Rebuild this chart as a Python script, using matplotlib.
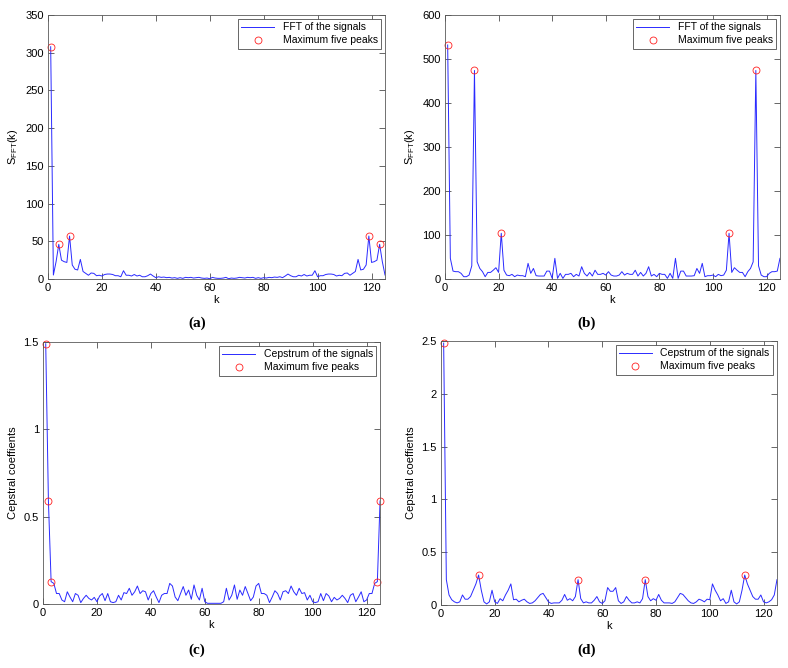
import numpy as np
import matplotlib
matplotlib.use('Agg')
import matplotlib.pyplot as plt
from matplotlib.ticker import FormatStrFormatter

plt.rcParams['font.family'] = ['Liberation Sans', 'DejaVu Sans']
plt.rcParams['font.size'] = 8

# spectra, k = 1..125
fft_a = [308, 5.3, 23, 46, 25, 23, 22, 57, 18.6, 13, 12, 26, 10, 7.5, 5, 8, 7.5, 4.4, 5, 4,
         6, 6.6, 6.6, 6, 4.4, 4.4, 3, 11, 5, 5, 4, 6, 4, 5, 3, 3, 4.4, 6.6, 4, 1.8,
         3, 2.2, 2.6, 1.8, 2.2, 1.3, 1.8, 0.9, 1.8, 0.9, 2.2, 1.8, 2.2, 1.3, 1.8, 2.2, 1.3, 0.9, 1.3, 0.4,
         2.2, 1.3, 0.9, 0.9, 1.3, 2.2, 0.4, 1.3, 0.9, 1.3, 2.2, 1.8, 1.3, 2.2, 1.8, 2.2, 0.9, 1.8, 0.9, 1.8,
         1.3, 2.2, 1.8, 2.6, 2.2, 3, 1.8, 4, 6.6, 4.4, 3, 3, 5, 4, 6, 4, 5, 5, 11, 3,
         4.4, 4.4, 6, 6.6, 6.6, 6, 4, 5, 4.4, 7.5, 8, 5, 7.5, 10, 26, 12, 13, 18.6, 57, 22,
         23, 25, 46, 23, 5.3]

fft_b = [532, 47, 18, 16.7, 16.7, 12.9, 5.3, 5.3, 9, 30, 474, 39, 24, 16.7, 5.3, 15, 15, 20, 25.7, 15,
         104, 20, 9, 7.6, 10.6, 5.3, 9, 7.6, 7.6, 5.3, 35.6, 12.9, 24, 7.6, 6.8, 6.8, 6.8, 18, 18, 1.5,
         47, 1.5, 12.9, 1.5, 10.6, 10.6, 12.9, 5.3, 10.6, 6.8, 28, 12.9, 6.8, 15, 6.8, 20, 10.6, 10.6, 12.9, 9,
         16.7, 9, 6.8, 6.8, 9, 16.7, 9, 12.9, 10.6, 10.6, 20, 6.8, 15, 6.8, 12.9, 28, 6.8, 10.6, 5.3, 12.9,
         10.6, 10.6, 1.5, 12.9, 1.5, 47, 1.5, 18, 18, 6.8, 6.8, 6.8, 7.6, 24, 12.9, 35.6, 5.3, 7.6, 7.6, 9,
         5.3, 10.6, 7.6, 9, 20, 104, 15, 25.7, 20, 15, 15, 5.3, 16.7, 24, 39, 474, 30, 9, 5.3, 5.3,
         12.9, 16.7, 16.7, 18, 47]

# cepstral coefficients
cep_c = [1.49, 0.59, 0.128, 0.118, 0.06, 0.06, 0.023, 0.013, 0.07, 0.04, 0.013, 0.06, 0.05, 0.008, 0.032, 0.05,
         0.032, 0.023, 0.038, 0.013, 0.046, 0.06, 0.019, 0.06, 0.013, 0.008, 0.013, 0.05, 0.023, 0.065, 0.06, 0.09,
         0.05, 0.07, 0.103, 0.06, 0.076, 0.07, 0.023, 0.06, 0.076, 0.04, 0.008, 0.05, 0.06, 0.06, 0.118, 0.103,
         0.04, 0.019, 0.06, 0.1, 0.05, 0.08, 0.027, 0.109, 0.05, 0.023, 0.09, 0.013, 0.004, 0.004, 0.004,
         0.004, 0.004, 0.004, 0.013, 0.09, 0.023, 0.05, 0.109, 0.027, 0.08, 0.05, 0.1, 0.06, 0.019, 0.04, 0.103,
         0.118, 0.06, 0.06, 0.05, 0.008, 0.04, 0.076, 0.06, 0.023, 0.07, 0.076, 0.06, 0.103, 0.07, 0.05, 0.09,
         0.06, 0.065, 0.023, 0.05, 0.013, 0.008, 0.013, 0.06, 0.019, 0.06, 0.046, 0.013, 0.038, 0.023, 0.032, 0.05,
         0.032, 0.008, 0.05, 0.06, 0.013, 0.04, 0.07, 0.013, 0.023, 0.06, 0.06, 0.118, 0.128, 0.59]

cep_d = [2.48, 0.24, 0.095, 0.05, 0.03, 0.02, 0.03, 0.095, 0.055, 0.055, 0.08, 0.14, 0.2, 0.284, 0.14, 0.03,
         0.01, 0.03, 0.14, 0.03, 0.015, 0.06, 0.04, 0.095, 0.14, 0.2, 0.05, 0.055, 0.03, 0.045, 0.055, 0.03,
         0.015, 0.02, 0.04, 0.07, 0.1, 0.11, 0.07, 0.03, 0.015, 0.02, 0.02, 0.02, 0.045, 0.1, 0.045, 0.06,
         0.04, 0.08, 0.24, 0.06, 0.02, 0.03, 0.02, 0.02, 0.045, 0.08, 0.03, 0.015, 0.04, 0.165, 0.13,
         0.13, 0.165, 0.04, 0.015, 0.03, 0.08, 0.045, 0.02, 0.02, 0.03, 0.02, 0.06, 0.24, 0.08, 0.04, 0.06,
         0.045, 0.1, 0.045, 0.02, 0.02, 0.02, 0.015, 0.03, 0.07, 0.11, 0.1, 0.07, 0.04, 0.02, 0.015, 0.03,
         0.055, 0.045, 0.03, 0.055, 0.05, 0.2, 0.14, 0.095, 0.04, 0.06, 0.015, 0.03, 0.14, 0.03, 0.01, 0.03,
         0.14, 0.284, 0.2, 0.14, 0.08, 0.055, 0.055, 0.095, 0.03, 0.02, 0.03, 0.05, 0.095, 0.24]

# k positions of the five largest peaks
peaks_a = [1, 4, 8, 119, 123]
peaks_b = [1, 11, 21, 106, 116]
peaks_c = [1, 2, 3, 124, 125]
peaks_d = [1, 14, 51, 76, 113]

xticks = [0, 20, 40, 60, 80, 100, 120]
yticks_a = [0, 50, 100, 150, 200, 250, 300, 350]
yticks_b = [0, 100, 200, 300, 400, 500, 600]
yticks_c = [0, 0.5, 1, 1.5]
yticks_d = [0, 0.5, 1, 1.5, 2, 2.5]


def draw_panel(ax, vals, peaks, line_label, yticks, ylabel):
    vals = np.array(vals)
    k = np.arange(1, len(vals) + 1)
    pk = np.array(peaks)
    ax.plot(k, vals, color='#2a2aff', lw=0.7, label=line_label)
    ax.plot(pk, vals[pk - 1], 'o', mfc='none', mec='#ff2020', ms=5, mew=0.6,
            clip_on=False, label='Maximum five peaks')
    ax.set_xlim(0, 125)
    ax.set_ylim(yticks[0], yticks[-1])
    ax.set_xticks(xticks)
    ax.set_yticks(yticks)
    ax.yaxis.set_major_formatter(FormatStrFormatter('%g'))
    # matlab style ticks: inside, on all four sides
    ax.tick_params(direction='in', top=True, right=True, length=4, width=0.6,
                   color='0.3', pad=3)
    for s in ax.spines.values():
        s.set_color('0.35')
        s.set_linewidth(0.6)
    ax.set_xlabel('k', labelpad=1)
    ax.set_ylabel(ylabel, labelpad=4)
    leg = ax.legend(loc='upper right', fancybox=False, edgecolor='0.3', framealpha=1,
                    fontsize=7.5, handlelength=3.2, borderaxespad=0.4, borderpad=0.3,
                    labelspacing=0.3)
    leg.get_frame().set_linewidth(0.6)


fig = plt.figure(figsize=(7.88, 6.68), dpi=100)

ax_a = fig.add_axes([0.0609, 0.5823, 0.4277, 0.3952])
ax_b = fig.add_axes([0.5647, 0.5823, 0.4251, 0.3952])
ax_c = fig.add_axes([0.0546, 0.0958, 0.4277, 0.3922])
ax_d = fig.add_axes([0.5596, 0.0943, 0.4264, 0.3952])

sfft = r'$\mathregular{S_{FFT}(k)}$'
draw_panel(ax_a, fft_a, peaks_a, 'FFT of the signals', yticks_a, sfft)
draw_panel(ax_b, fft_b, peaks_b, 'FFT of the signals', yticks_b, sfft)
draw_panel(ax_c, cep_c, peaks_c, 'Cepstrum of the signals', yticks_c, 'Cepstral coeffients')
draw_panel(ax_d, cep_d, peaks_d, 'Cepstrum of the signals', yticks_d, 'Cepstral coeffients')

# panel captions
for x, y, lab in [(0.25, 0.5165, '(a)'), (0.745, 0.5165, '(b)'),
                  (0.25, 0.027, '(c)'), (0.745, 0.027, '(d)')]:
    fig.text(x, y, lab, family='Liberation Serif', fontweight='bold', fontsize=11,
             ha='center', va='center')

fig.savefig('out.png', dpi=100)
